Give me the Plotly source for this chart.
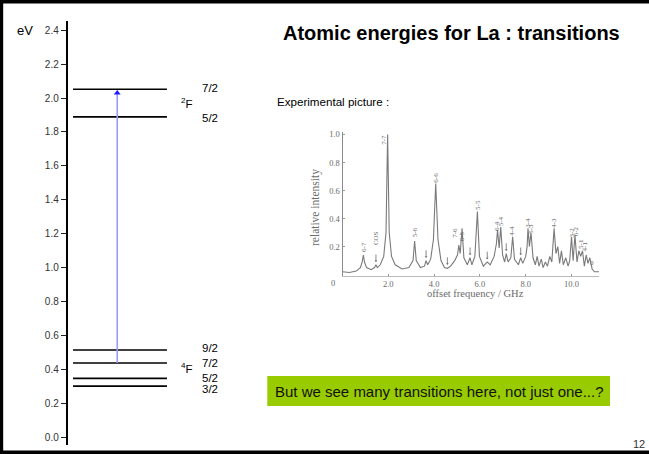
import plotly.graph_objects as go

W, H = 649, 454

# ---------------- data ----------------
# energy levels (eV)
upper_term = "<sup>2</sup>F"
upper_J = ["7/2", "5/2"]
upper_E = [2.052, 1.889]

lower_term = "<sup>4</sup>F"
lower_J = ["9/2", "7/2", "5/2", "3/2"]
lower_E = [0.515, 0.438, 0.348, 0.302]

transition_from = 0.438
transition_to = 2.052

energy_ticks = [0.0, 0.2, 0.4, 0.6, 0.8, 1.0, 1.2, 1.4, 1.6, 1.8, 2.0, 2.2, 2.4]

# experimental spectrum
spec_ghz = [0.0, 0.3, 0.6, 0.78, 0.86, 0.91, 0.96, 1.05, 1.25, 1.4, 1.46, 1.52, 1.65, 1.8, 1.9, 1.97,
            2.04, 2.14, 2.3, 2.6, 2.9, 3.08, 3.15, 3.22, 3.4, 3.58, 3.65, 3.72, 3.85, 3.97, 4.07, 4.17,
            4.3, 4.45, 4.58, 4.72, 4.9, 5.02, 5.08, 5.14, 5.22, 5.3, 5.45, 5.57, 5.65, 5.78, 5.89, 5.98,
            6.15, 6.32, 6.45, 6.62, 6.72, 6.77, 6.84, 6.91, 6.99, 7.08, 7.15, 7.23, 7.35, 7.43, 7.51,
            7.68, 7.78, 7.87, 8.0, 8.06, 8.1, 8.16, 8.23, 8.32, 8.42, 8.5, 8.58, 8.68, 8.76, 8.86, 8.95,
            9.05, 9.14, 9.24, 9.32, 9.4, 9.48, 9.56, 9.64, 9.75, 9.85, 9.92, 10.0, 10.07, 10.15, 10.24,
            10.32, 10.4, 10.48, 10.56, 10.64, 10.72, 10.8, 10.9, 11.0, 11.2]
spec_int = [0.02, 0.015, 0.025, 0.05, 0.09, 0.14, 0.09, 0.05, 0.035, 0.05, 0.07, 0.05, 0.07, 0.13, 0.3, 1.0,
            0.3, 0.13, 0.07, 0.04, 0.05, 0.1, 0.24, 0.1, 0.05, 0.06, 0.1, 0.07, 0.11, 0.25, 0.65, 0.25,
            0.1, 0.05, 0.045, 0.06, 0.1, 0.14, 0.21, 0.15, 0.33, 0.12, 0.07, 0.12, 0.07, 0.13, 0.45, 0.13,
            0.06, 0.09, 0.07, 0.13, 0.22, 0.32, 0.19, 0.34, 0.14, 0.09, 0.15, 0.09, 0.12, 0.27, 0.11,
            0.07, 0.12, 0.08, 0.13, 0.2, 0.33, 0.2, 0.3, 0.12, 0.07, 0.13, 0.06, 0.11, 0.05, 0.09, 0.06,
            0.13, 0.09, 0.33, 0.15, 0.2, 0.08, 0.17, 0.07, 0.12, 0.06, 0.1, 0.27, 0.1, 0.28, 0.09,
            0.17, 0.13, 0.17, 0.06, 0.14, 0.08, 0.12, 0.04, 0.02, 0.02]

peak_labels = ["6-7", "COS", "7-7", "5-6", "6-6", "7-6", "6-5", "5-5", "6-4", "5-4", "4-4",
               "3-4", "5-3", "4-3", "3-2", "6-2", "5-1", "4-1", "0"]
peak_label_ghz = [0.91, 1.46, 1.8, 3.15, 4.07, 4.88, 5.2, 5.89, 6.72, 6.92, 7.43,
                  8.1, 8.25, 9.24, 10.02, 10.2, 10.42, 10.58, 10.9]
peak_label_int = [0.2, 0.26, 0.96, 0.3, 0.69, 0.3, 0.27, 0.5, 0.35, 0.38, 0.31,
                  0.37, 0.33, 0.37, 0.3, 0.31, 0.22, 0.2, 0.08]

arrow_ghz = [1.46, 3.65, 4.58, 5.57, 6.32, 7.15, 7.78]
arrow_int = [0.09, 0.12, 0.07, 0.14, 0.11, 0.17, 0.14]

spec_yticks = [0.2, 0.4, 0.6, 0.8, 1.0]
spec_xticks = [2.0, 4.0, 6.0, 8.0, 10.0]

# ---------------- helpers (pixel -> paper) ----------------
def px(x):
    return x / W

def py(y):
    return 1 - y / H

SANS = "Liberation Sans, Arial, sans-serif"
SERIF = "Liberation Serif, Times New Roman, serif"
SPEC_GREY = "#7a7a7a"
LABEL_GREY = "#6a6a6a"

fig = go.Figure()

# ---- energy diagram ----
for E in upper_E + lower_E:
    fig.add_trace(go.Scatter(x=[0.34, 6.12], y=[E, E], mode="lines",
                             line=dict(color="black", width=1.6),
                             hoverinfo="skip", showlegend=False, xaxis="x", yaxis="y"))

ARROW_X = 3.06
fig.add_trace(go.Scatter(x=[ARROW_X, ARROW_X], y=[transition_from, transition_to - 0.02], mode="lines",
                         line=dict(color="#9a9aff", width=1.6),
                         hoverinfo="skip", showlegend=False, xaxis="x", yaxis="y"))
fig.add_trace(go.Scatter(x=[ARROW_X], y=[transition_to - 0.022], mode="markers",
                         marker=dict(symbol="triangle-up", size=6, color="#1a1aff", line=dict(width=0)),
                         hoverinfo="skip", showlegend=False, xaxis="x", yaxis="y"))

ann = []


def text_at(x, y, text, size, family=SANS, color="black", xanchor="center", yanchor="middle", **kw):
    d = dict(x=x, y=y, xref="paper", yref="paper", text=text, showarrow=False,
             xanchor=xanchor, yanchor=yanchor, font=dict(family=family, size=size, color=color))
    d.update(kw)
    ann.append(d)


J_X = 8.15
TERM_X = 6.86
shifts_upper = [1, -1]
for J, E, s in zip(upper_J, upper_E, shifts_upper):
    ann.append(dict(x=J_X, y=E, xref="x", yref="y", text=J, showarrow=False, xanchor="left",
                    yanchor="middle", yshift=s, font=dict(family=SANS, size=11.5, color="black")))
shifts_lower = [2, 0, 0, -3]
for J, E, s in zip(lower_J, lower_E, shifts_lower):
    ann.append(dict(x=J_X, y=E, xref="x", yref="y", text=J, showarrow=False, xanchor="left",
                    yanchor="middle", yshift=s, font=dict(family=SANS, size=11.5, color="black")))
ann.append(dict(x=TERM_X, y=(max(upper_E) + min(upper_E)) / 2, xref="x", yref="y", text=upper_term,
                showarrow=False, xanchor="left", yanchor="middle",
                font=dict(family=SANS, size=11.5, color="black")))
ann.append(dict(x=TERM_X, y=(max(lower_E) + min(lower_E)) / 2, xref="x", yref="y", text=lower_term,
                showarrow=False, xanchor="left", yanchor="middle",
                font=dict(family=SANS, size=11.5, color="black")))

text_at(px(25), py(31), "eV", 13)

# ---- spectrum ----
fig.add_trace(go.Scatter(x=spec_ghz, y=spec_int, mode="lines",
                         line=dict(color=SPEC_GREY, width=1.1),
                         hoverinfo="skip", showlegend=False, xaxis="x2", yaxis="y2"))

for t, gx, gi in zip(peak_labels, peak_label_ghz, peak_label_int):
    ann.append(dict(x=gx, y=gi, xref="x2", yref="y2", text=t, showarrow=False,
                    xanchor="center", yanchor="middle",
                    textangle=0 if t == "0" else -90,
                    font=dict(family=SERIF, size=7, color=LABEL_GREY)))
for gx, gi in zip(arrow_ghz, arrow_int):
    ann.append(dict(x=gx, y=gi, xref="x2", yref="y2", text="", showarrow=True,
                    ax=0, ay=-9, arrowhead=1, arrowsize=0.6, arrowwidth=0.8, arrowcolor=LABEL_GREY))

text_at(px(333), py(283), "0", 8.5, family=SERIF, color=LABEL_GREY)
text_at(px(315), py(208), "relative intensity", 11.5, family=SERIF, color=LABEL_GREY, textangle=-90)
text_at(px(475), py(293.5), "offset frequency / GHz", 10.5, family=SERIF, color=LABEL_GREY)

# ---- slide texts ----
text_at(px(451.5), py(33), "<b>Atomic energies for La : transitions</b>", 20)
text_at(px(275), py(101), "Experimental picture :", 11.6, xanchor="left")
text_at(px(273), py(391), "But we see many transitions here, not just one...?", 15,
        color="#111111", xanchor="left")
text_at(px(639), py(444), "12", 11, color="#333333")

shapes = [
    # green box
    dict(type="rect", xref="paper", yref="paper", x0=px(267.3), x1=px(610), y0=py(406), y1=py(376),
         fillcolor="#99cc00", line=dict(width=0), layer="below"),
    # slide frame
    dict(type="rect", xref="paper", yref="paper", x0=0, x1=px(3.2), y0=0, y1=1,
         fillcolor="black", line=dict(width=0), layer="above"),
    dict(type="rect", xref="paper", yref="paper", x0=0, x1=1, y0=py(3.6), y1=1,
         fillcolor="black", line=dict(width=0), layer="above"),
    dict(type="rect", xref="paper", yref="paper", x0=0, x1=1, y0=0, y1=py(450.6),
         fillcolor="black", line=dict(width=0), layer="above"),
]

fig.update_layout(
    width=W, height=H,
    margin=dict(l=0, r=0, t=0, b=0, autoexpand=False),
    paper_bgcolor="white", plot_bgcolor="rgba(0,0,0,0)",
    showlegend=False,
    annotations=ann, shapes=shapes,
    xaxis=dict(domain=[px(67.5), px(230)], range=[0, 10], visible=False, fixedrange=True),
    yaxis=dict(domain=[py(445), py(20.7)], range=[-0.045, 2.456],
               tickvals=energy_ticks, tickformat=".1f",
               ticks="outside", ticklen=5, tickwidth=1, tickcolor="#222222",
               showline=True, linecolor="black", linewidth=1.5,
               showgrid=False, zeroline=False,
               tickfont=dict(family=SANS, size=10, color="#333333"), anchor="x"),
    xaxis2=dict(domain=[px(342.5), px(599)], range=[0, 11.2], anchor="y2",
                tickvals=spec_xticks, tickformat=".1f",
                ticks="inside", ticklen=2, tickcolor="#999999",
                showline=True, linecolor="#bbbbbb", linewidth=1,
                showgrid=False, zeroline=False,
                tickfont=dict(family=SERIF, size=8.5, color=LABEL_GREY)),
    yaxis2=dict(domain=[py(276), py(131.7)], range=[-0.01, 1.02], anchor="x2",
                tickvals=spec_yticks, tickformat=".1f",
                ticks="inside", ticklen=2, tickcolor="#999999",
                showline=True, linecolor="#8a8a8a", linewidth=1,
                showgrid=False, zeroline=False,
                tickfont=dict(family=SERIF, size=8.5, color=LABEL_GREY)),
)

frame_js = (
    "document.body.style.margin='0px';"
    "var f=document.createElement('div');"
    "f.style.cssText='position:fixed;left:0;top:0;width:%dpx;height:%dpx;"
    "border-left:3px solid black;border-top:3px solid black;border-bottom:3px solid black;"
    "box-sizing:border-box;pointer-events:none;z-index:1000;';"
    "document.body.appendChild(f);" % (W + 10, H)
)

fig.write_html("out.html", config={"displayModeBar": False}, post_script=frame_js)
